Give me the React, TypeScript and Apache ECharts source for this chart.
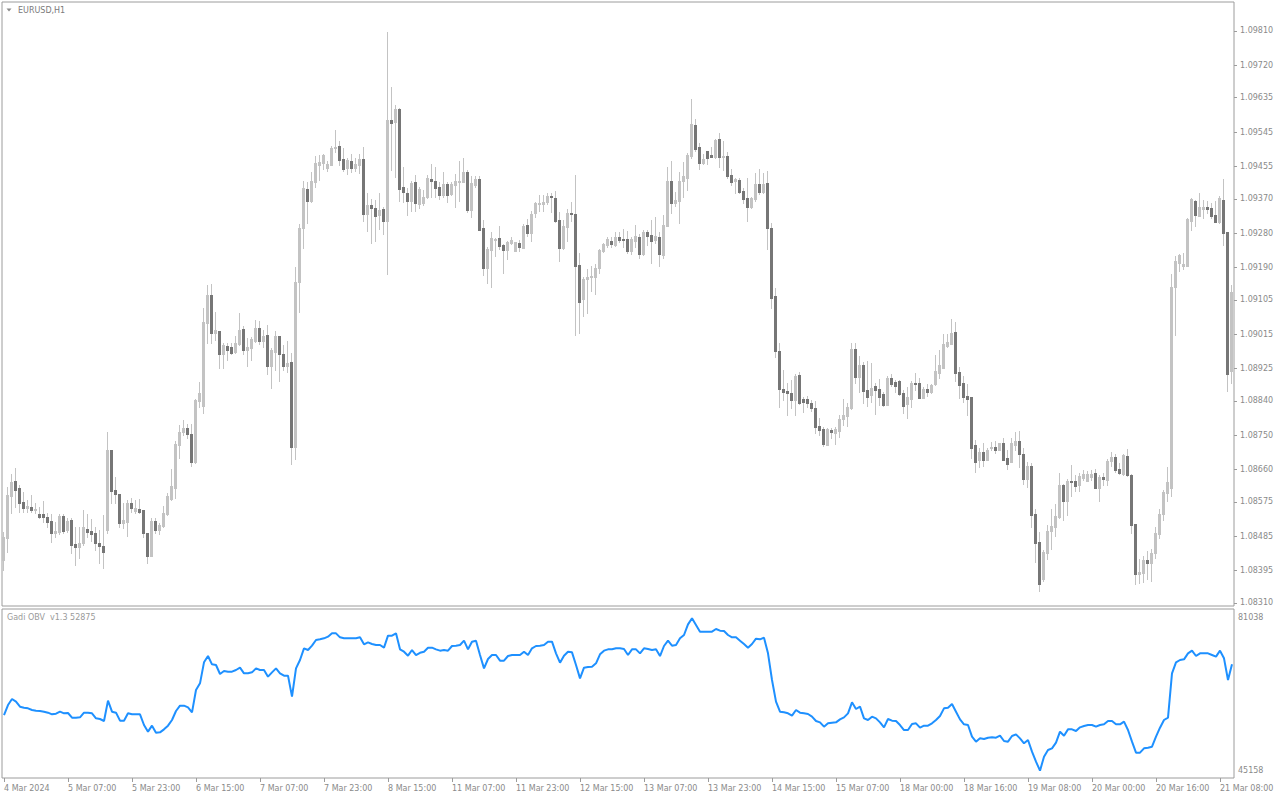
import React, { useEffect, useRef } from 'react';
import * as echarts from 'echarts';

const yTickLabels = ['1.09810', '1.09720', '1.09635', '1.09545', '1.09455', '1.09370', '1.09280', '1.09190', '1.09105', '1.09015', '1.08925', '1.08840', '1.08750', '1.08660', '1.08575', '1.08485', '1.08395', '1.08310'];
const xTickLabels = ['4 Mar 2024', '5 Mar 07:00', '5 Mar 23:00', '6 Mar 15:00', '7 Mar 07:00', '7 Mar 23:00', '8 Mar 15:00', '11 Mar 07:00', '11 Mar 23:00', '12 Mar 15:00', '13 Mar 07:00', '13 Mar 23:00', '14 Mar 15:00', '15 Mar 07:00', '18 Mar 00:00', '18 Mar 16:00', '19 Mar 08:00', '20 Mar 00:00', '20 Mar 16:00', '21 Mar 08:00'];
const obvTickLabels = ['81038', '45158'];

const opens = [
1.08423,1.08481,1.08591,1.08630,1.08612,1.08575,1.08559,1.08562,1.08554,1.08544,1.08544,1.08536,1.08525,1.08494,1.08496,1.08538,1.08502,1.08528,1.08465,1.08457,
1.08468,1.08504,1.08499,1.08494,1.08468,1.08460,1.08502,1.08711,1.08607,1.08596,1.08520,1.08523,1.08572,1.08552,1.08557,1.08554,1.08494,1.08434,1.08525,1.08502,
1.08512,1.08544,1.08583,1.08612,1.08725,1.08759,1.08769,1.08753,1.08680,1.08840,1.08827,1.09044,1.09118,1.09018,1.09023,1.08963,1.08984,1.08981,1.08968,1.08989,
1.09029,1.08974,1.08979,1.08997,1.09031,1.08997,1.09013,1.08932,1.08968,1.09010,1.08963,1.08932,1.08942,1.08719,1.09152,1.09293,1.09396,1.09364,1.09414,1.09459,
1.09464,1.09451,1.09459,1.09503,1.09509,1.09474,1.09451,1.09469,1.09451,1.09459,1.09474,1.09330,1.09354,1.09346,1.09328,1.09343,1.09312,1.09577,1.09571,1.09606,
1.09401,1.09385,1.09364,1.09414,1.09356,1.09359,1.09375,1.09422,1.09417,1.09401,1.09380,1.09409,1.09383,1.09406,1.09414,1.09414,1.09440,1.09341,1.09406,1.09422,
1.09293,1.09189,1.09236,1.09262,1.09267,1.09249,1.09236,1.09254,1.09233,1.09254,1.09241,1.09301,1.09280,1.09333,1.09356,1.09356,1.09362,1.09377,1.09372,1.09315,
1.09241,1.09296,1.09333,1.09330,1.09196,1.09107,1.09160,1.09165,1.09165,1.09189,1.09233,1.09249,1.09259,1.09249,1.09270,1.09265,1.09265,1.09233,1.09259,1.09270,
1.09225,1.09283,1.09275,1.09262,1.09270,1.09223,1.09299,1.09417,1.09359,1.09364,1.09417,1.09425,1.09482,1.09564,1.09506,1.09464,1.09495,1.09485,1.09480,1.09527,
1.09480,1.09482,1.09433,1.09417,1.09419,1.09390,1.09372,1.09349,1.09370,1.09409,1.09388,1.09411,1.09293,1.09115,1.08971,1.08871,1.08866,1.08861,1.08843,1.08908,
1.08845,1.08845,1.08835,1.08822,1.08775,1.08766,1.08725,1.08764,1.08756,1.08761,1.08793,1.08801,1.08822,1.08976,1.08903,1.08934,1.08869,1.08856,1.08879,1.08871,
1.08858,1.08829,1.08900,1.08890,1.08892,1.08861,1.08833,1.08845,1.08887,1.08887,1.08848,1.08871,1.08864,1.08884,1.08913,1.08926,1.08984,1.08989,1.09021,1.08916,
1.08887,1.08853,1.08850,1.08725,1.08685,1.08706,1.08685,1.08717,1.08719,1.08711,1.08730,1.08690,1.08680,1.08725,1.08735,1.08701,1.08635,1.08670,1.08544,1.08470,
1.08373,1.08441,1.08499,1.08509,1.08536,1.08620,1.08578,1.08630,1.08630,1.08620,1.08638,1.08630,1.08641,1.08651,1.08612,1.08641,1.08633,1.08683,1.08693,1.08662,
1.08649,1.08696,1.08646,1.08517,1.08386,1.08389,1.08423,1.08415,1.08441,1.08491,1.08544,1.08599,1.08612,1.09139,1.09202,1.09194,1.09194,1.09312,1.09364,1.09325,
1.09343,1.09349,1.09346,1.09328,1.09309,1.09367,1.09283,1.08919
];
const highs = [
1.08496,1.08614,1.08649,1.08664,1.08620,1.08601,1.08580,1.08593,1.08572,1.08562,1.08578,1.08546,1.08544,1.08523,1.08544,1.08544,1.08533,1.08533,1.08509,1.08509,
1.08554,1.08544,1.08531,1.08509,1.08502,1.08541,1.08759,1.08711,1.08641,1.08596,1.08572,1.08580,1.08586,1.08580,1.08583,1.08554,1.08494,1.08533,1.08533,1.08520,
1.08565,1.08599,1.08662,1.08735,1.08777,1.08790,1.08780,1.08780,1.08845,1.08890,1.09084,1.09144,1.09147,1.09073,1.09023,1.08992,1.08992,1.08992,1.09010,1.09071,
1.09036,1.09005,1.09008,1.09052,1.09050,1.09026,1.09039,1.08979,1.09023,1.09010,1.08987,1.08997,1.08966,1.09191,1.09304,1.09417,1.09414,1.09440,1.09482,1.09485,
1.09488,1.09469,1.09509,1.09551,1.09522,1.09503,1.09477,1.09488,1.09477,1.09488,1.09506,1.09385,1.09370,1.09367,1.09385,1.09349,1.09807,1.09663,1.09616,1.09608,
1.09453,1.09398,1.09417,1.09432,1.09401,1.09393,1.09432,1.09461,1.09453,1.09414,1.09440,1.09414,1.09414,1.09435,1.09469,1.09477,1.09446,1.09430,1.09430,1.09430,
1.09314,1.09244,1.09283,1.09267,1.09299,1.09252,1.09259,1.09270,1.09257,1.09262,1.09304,1.09317,1.09338,1.09362,1.09380,1.09380,1.09385,1.09385,1.09391,1.09335,
1.09315,1.09343,1.09362,1.09432,1.09228,1.09165,1.09186,1.09194,1.09199,1.09238,1.09254,1.09270,1.09270,1.09283,1.09283,1.09291,1.09286,1.09270,1.09301,1.09278,
1.09288,1.09288,1.09315,1.09322,1.09283,1.09328,1.09453,1.09469,1.09388,1.09440,1.09467,1.09490,1.09632,1.09579,1.09516,1.09488,1.09495,1.09506,1.09527,1.09543,
1.09522,1.09493,1.09448,1.09425,1.09425,1.09398,1.09425,1.09375,1.09438,1.09448,1.09438,1.09443,1.09307,1.09136,1.08992,1.08921,1.08887,1.08895,1.08911,1.08916,
1.08850,1.08853,1.08843,1.08840,1.08795,1.08772,1.08769,1.08769,1.08772,1.08803,1.08845,1.08835,1.08992,1.08992,1.08958,1.08942,1.08945,1.08940,1.08887,1.08898,
1.08864,1.08905,1.08911,1.08895,1.08895,1.08869,1.08877,1.08892,1.08913,1.08900,1.08877,1.08884,1.08884,1.08961,1.08974,1.09016,1.09016,1.09055,1.09047,1.08929,
1.08905,1.08884,1.08850,1.08738,1.08717,1.08730,1.08717,1.08732,1.08735,1.08730,1.08743,1.08711,1.08743,1.08759,1.08761,1.08717,1.08680,1.08677,1.08557,1.08496,
1.08449,1.08515,1.08557,1.08570,1.08651,1.08622,1.08635,1.08672,1.08646,1.08651,1.08659,1.08656,1.08659,1.08662,1.08646,1.08651,1.08688,1.08706,1.08701,1.08677,
1.08701,1.08714,1.08649,1.08517,1.08426,1.08434,1.08447,1.08452,1.08509,1.08557,1.08607,1.08667,1.09173,1.09220,1.09225,1.09228,1.09320,1.09372,1.09367,1.09385,
1.09367,1.09364,1.09359,1.09364,1.09377,1.09422,1.09283,1.09144
];
const lows = [
1.08397,1.08444,1.08546,1.08562,1.08549,1.08549,1.08549,1.08549,1.08546,1.08533,1.08523,1.08509,1.08470,1.08483,1.08491,1.08494,1.08496,1.08441,1.08410,1.08428,
1.08462,1.08483,1.08473,1.08449,1.08415,1.08402,1.08494,1.08572,1.08572,1.08509,1.08507,1.08486,1.08549,1.08546,1.08546,1.08483,1.08415,1.08434,1.08494,1.08491,
1.08509,1.08541,1.08580,1.08586,1.08690,1.08751,1.08743,1.08670,1.08677,1.08824,1.08808,1.08992,1.08992,1.09000,1.08926,1.08926,1.08947,1.08963,1.08966,1.08987,
1.08963,1.08932,1.08947,1.08995,1.08989,1.08981,1.08911,1.08874,1.08921,1.08892,1.08921,1.08916,1.08675,1.08688,1.09073,1.09241,1.09307,1.09362,1.09401,1.09419,
1.09448,1.09443,1.09459,1.09493,1.09459,1.09443,1.09435,1.09440,1.09443,1.09438,1.09312,1.09286,1.09254,1.09259,1.09291,1.09278,1.09173,1.09446,1.09427,1.09364,
1.09362,1.09328,1.09338,1.09338,1.09346,1.09354,1.09372,1.09375,1.09375,1.09370,1.09375,1.09362,1.09380,1.09349,1.09364,1.09414,1.09335,1.09322,1.09401,1.09288,
1.09170,1.09149,1.09139,1.09220,1.09238,1.09176,1.09212,1.09252,1.09233,1.09233,1.09241,1.09273,1.09259,1.09322,1.09338,1.09338,1.09356,1.09335,1.09309,1.09207,
1.09238,1.09259,1.09312,1.09013,1.09018,1.09063,1.09071,1.09128,1.09120,1.09176,1.09231,1.09244,1.09244,1.09246,1.09257,1.09244,1.09228,1.09225,1.09244,1.09215,
1.09223,1.09249,1.09202,1.09254,1.09194,1.09215,1.09299,1.09333,1.09351,1.09307,1.09375,1.09393,1.09477,1.09495,1.09448,1.09461,1.09461,1.09480,1.09477,1.09453,
1.09446,1.09425,1.09406,1.09385,1.09385,1.09359,1.09312,1.09346,1.09364,1.09383,1.09385,1.09238,1.09084,1.08955,1.08824,1.08843,1.08803,1.08822,1.08803,1.08833,
1.08811,1.08824,1.08814,1.08756,1.08751,1.08722,1.08725,1.08743,1.08727,1.08746,1.08777,1.08775,1.08819,1.08887,1.08864,1.08835,1.08827,1.08838,1.08806,1.08829,
1.08827,1.08829,1.08879,1.08864,1.08856,1.08808,1.08795,1.08824,1.08869,1.08848,1.08848,1.08853,1.08861,1.08882,1.08900,1.08926,1.08981,1.08989,1.08892,1.08848,
1.08838,1.08803,1.08690,1.08654,1.08667,1.08670,1.08685,1.08711,1.08704,1.08711,1.08685,1.08662,1.08680,1.08711,1.08667,1.08622,1.08614,1.08509,1.08418,1.08342,
1.08368,1.08426,1.08452,1.08486,1.08533,1.08528,1.08541,1.08591,1.08604,1.08604,1.08633,1.08630,1.08633,1.08612,1.08578,1.08620,1.08620,1.08670,1.08654,1.08649,
1.08646,1.08643,1.08494,1.08360,1.08363,1.08365,1.08373,1.08368,1.08428,1.08481,1.08528,1.08578,1.08591,1.09013,1.09181,1.09186,1.09194,1.09288,1.09299,1.09325,
1.09320,1.09333,1.09320,1.09309,1.09307,1.09249,1.08866,1.08887
];
const closes = [
1.08483,1.08593,1.08628,1.08607,1.08572,1.08559,1.08565,1.08554,1.08557,1.08536,1.08536,1.08523,1.08494,1.08499,1.08538,1.08499,1.08525,1.08462,1.08457,1.08468,
1.08509,1.08496,1.08491,1.08468,1.08460,1.08444,1.08711,1.08604,1.08596,1.08520,1.08528,1.08572,1.08559,1.08559,1.08549,1.08494,1.08434,1.08525,1.08502,1.08515,
1.08546,1.08591,1.08617,1.08727,1.08759,1.08769,1.08753,1.08680,1.08843,1.08861,1.09047,1.09118,1.09018,1.09026,1.08963,1.08987,1.08974,1.08966,1.08992,1.09026,
1.08974,1.08981,1.09002,1.09031,1.08997,1.09010,1.08932,1.08974,1.09010,1.08963,1.08932,1.08940,1.08719,1.09152,1.09293,1.09398,1.09364,1.09417,1.09464,1.09467,
1.09485,1.09461,1.09503,1.09506,1.09472,1.09448,1.09472,1.09451,1.09461,1.09474,1.09330,1.09354,1.09346,1.09325,1.09341,1.09312,1.09577,1.09569,1.09606,1.09396,
1.09388,1.09364,1.09411,1.09359,1.09396,1.09375,1.09425,1.09417,1.09398,1.09380,1.09409,1.09380,1.09409,1.09417,1.09417,1.09440,1.09341,1.09411,1.09422,1.09288,
1.09189,1.09238,1.09267,1.09265,1.09246,1.09236,1.09257,1.09262,1.09257,1.09244,1.09299,1.09280,1.09330,1.09359,1.09359,1.09362,1.09377,1.09375,1.09312,1.09241,
1.09299,1.09333,1.09330,1.09194,1.09099,1.09160,1.09165,1.09168,1.09189,1.09236,1.09252,1.09265,1.09252,1.09270,1.09262,1.09262,1.09233,1.09265,1.09272,1.09225,
1.09283,1.09272,1.09259,1.09272,1.09225,1.09301,1.09417,1.09359,1.09367,1.09417,1.09430,1.09485,1.09566,1.09501,1.09464,1.09474,1.09477,1.09480,1.09524,1.09480,
1.09482,1.09430,1.09414,1.09422,1.09388,1.09370,1.09349,1.09372,1.09409,1.09388,1.09409,1.09293,1.09110,1.08971,1.08871,1.08864,1.08861,1.08843,1.08905,1.08835,
1.08838,1.08835,1.08822,1.08772,1.08764,1.08727,1.08766,1.08759,1.08766,1.08793,1.08803,1.08824,1.08976,1.08903,1.08934,1.08866,1.08850,1.08874,1.08869,1.08850,
1.08829,1.08900,1.08884,1.08879,1.08858,1.08827,1.08850,1.08887,1.08884,1.08848,1.08871,1.08864,1.08882,1.08919,1.08934,1.08989,1.08995,1.09018,1.08913,1.08882,
1.08850,1.08845,1.08717,1.08680,1.08706,1.08685,1.08711,1.08719,1.08711,1.08730,1.08685,1.08675,1.08730,1.08735,1.08701,1.08635,1.08670,1.08541,1.08468,1.08360,
1.08444,1.08499,1.08512,1.08538,1.08620,1.08578,1.08630,1.08628,1.08617,1.08643,1.08649,1.08649,1.08649,1.08612,1.08641,1.08635,1.08683,1.08693,1.08659,1.08651,
1.08698,1.08646,1.08515,1.08386,1.08392,1.08423,1.08415,1.08441,1.08494,1.08544,1.08601,1.08628,1.09139,1.09207,1.09223,1.09199,1.09317,1.09370,1.09328,1.09349,
1.09349,1.09343,1.09325,1.09309,1.09372,1.09280,1.08911,1.09126
];
const obv = [
58203,60533,61931,61310,60145,59912,59757,59368,59213,59135,58980,58747,58359,58514,58980,58592,58669,57582,57582,57660,
58747,58747,58592,57426,57271,56805,61543,58980,58747,56883,56883,58592,58359,58359,58359,55873,54320,55718,54087,54165,
54864,55718,57038,59135,60378,60378,59990,58825,64028,65581,70475,71951,70009,69853,67757,68455,68300,68300,68688,69232,
67912,67912,68145,69077,68688,68688,67135,68145,69077,67912,67368,67368,62475,69077,71018,73737,73349,74358,75678,75834,
76067,76455,77232,77232,76300,76067,76067,76067,76067,76300,74669,75135,74746,74514,74514,73892,76688,76688,77232,73504,
72960,72028,73349,72183,72700,72960,73892,73892,73504,73193,73349,73193,74281,74358,74514,75523,73504,75290,75523,72183,
69077,71251,72183,72183,70863,70863,71950,72183,72183,72183,72960,72183,73737,74281,74358,74514,75290,75290,72572,70397,
72028,72960,72805,69853,66747,69232,69387,69465,70242,72339,73193,73504,73504,73737,73737,73582,72183,73504,73504,72572,
73737,73582,73349,73504,71950,74281,75523,74358,74514,76067,76844,79329,80727,79174,77620,77620,77620,77620,78242,77853,
77776,76844,76300,76300,75523,74747,73892,74747,75989,75834,76222,72572,66358,61310,58980,58824,58591,58048,59368,58747,
58591,58436,57815,56805,56494,55484,56261,56416,56494,57193,57659,58591,61154,59601,60145,57426,57038,57815,57426,56494,
55329,57271,56883,56805,55873,54708,54708,56106,56261,55251,55717,55717,56261,57038,57970,59756,59912,60766,58980,57193,
56028,55873,53154,51989,52766,52611,52921,52999,52921,53387,52145,51989,53310,53698,52766,51601,52378,49659,47329,45232,
48494,50048,50436,51756,54319,53387,54863,54863,54475,55329,55640,55873,55873,55484,55873,56028,56805,56805,56028,56028,
56649,54708,51989,49426,49426,50436,50591,50824,53154,55251,57038,57582,67912,70475,71018,71174,72572,73193,71950,72572,
72572,72572,72183,71795,73193,71407,66358,70009
];

const FONT = 'DejaVu Sans';
const LABEL = '#8a8a8a';
const BORDER = '#9c9c9c';
const BULL = '#c3c3c3';
const BEAR = '#767676';
const WICK = '#c3c3c3';

function buildCategories(n: number): string[] {
  const out: string[] = [];
  let t = Date.UTC(2024, 2, 4, 16);
  const months = ['Jan', 'Feb', 'Mar', 'Apr'];
  while (out.length < n) {
    const d = new Date(t);
    const wd = d.getUTCDay();
    if (wd !== 0 && wd !== 6) {
      const hh = String(d.getUTCHours()).padStart(2, '0');
      out.push(`${d.getUTCDate()} ${months[d.getUTCMonth()]} ${hh}:00`);
    }
    t += 3600000;
  }
  return out;
}

function renderCandle(_params: any, api: any) {
  const k = api.value(0);
  const o = api.value(1);
  const c = api.value(2);
  const l = api.value(3);
  const h = api.value(4);
  const pO = api.coord([k, o]);
  const pC = api.coord([k, c]);
  const pL = api.coord([k, l]);
  const pH = api.coord([k, h]);
  const cx = Math.round(pO[0]);
  const yH = Math.round(pH[1]);
  const yL = Math.round(pL[1]);
  const yTop = Math.round(Math.min(pO[1], pC[1]));
  const yBot = Math.round(Math.max(pO[1], pC[1]));
  const bull = c >= o;
  return {
    type: 'group',
    children: [
      { type: 'rect', shape: { x: cx - 1, y: yH, width: 1, height: Math.max(1, yL - yH + 1) }, style: { fill: WICK } },
      { type: 'rect', shape: { x: cx - 2, y: yTop, width: 3, height: Math.max(1, yBot - yTop + 1) }, style: { fill: bull ? BULL : BEAR } },
    ],
  };
}

export default function App() {
  const ref = useRef<HTMLDivElement>(null);
  useEffect(() => {
    if (!ref.current) return;
    const chart = echarts.init(ref.current, null, { renderer: 'svg' });
    const categories = buildCategories(closes.length);
    const candleData = opens.map((o, i) => [i, o, closes[i], lows[i], highs[i]]);
    const yVals = yTickLabels.map(Number);
    const obvVals = obvTickLabels.map(Number);
    const step = 16;

    const option: any = {
      animation: false,
      backgroundColor: '#ffffff',
      grid: [
        { left: 2, top: 2, width: 1232, height: 604, show: true, borderColor: BORDER, borderWidth: 1, backgroundColor: '#fff' },
        { left: 2, top: 609, width: 1232, height: 169, show: true, borderColor: BORDER, borderWidth: 1, backgroundColor: '#fff' },
      ],
      xAxis: [
        {
          type: 'category', gridIndex: 0, data: categories, boundaryGap: true,
          axisLine: { show: false }, axisTick: { show: false }, axisLabel: { show: false }, splitLine: { show: false },
        },
        {
          type: 'category', gridIndex: 1, data: categories, boundaryGap: true, position: 'bottom',
          axisLine: { show: false },
          axisTick: { show: true, alignWithLabel: true, interval: (i: number) => i % step === 0, length: 4, lineStyle: { color: BORDER } },
          axisLabel: {
            show: true, interval: (i: number) => i % step === 0, align: 'left', margin: 6,
            fontFamily: FONT, fontSize: 8, color: LABEL,
            formatter: (_v: string, i: number) => (i % step === 0 ? (xTickLabels[i / step] ?? '') : ''),
          },
          splitLine: { show: false },
        },
      ],
      yAxis: [
        {
          type: 'value', gridIndex: 0, position: 'right', min: 1.083021, max: 1.09886, scale: true,
          axisLine: { show: false }, splitLine: { show: false },
          axisTick: { show: true, customValues: yVals, length: 3, lineStyle: { color: BORDER } },
          axisLabel: { show: true, customValues: yVals, margin: 6, fontFamily: FONT, fontSize: 8, color: LABEL, formatter: (v: number) => v.toFixed(5) },
        },
        {
          type: 'value', gridIndex: 1, position: 'right', min: 43527, max: 82902, scale: true,
          axisLine: { show: false }, splitLine: { show: false }, axisTick: { show: false },
          axisLabel: { show: true, customValues: obvVals, margin: 4, fontFamily: FONT, fontSize: 8, color: LABEL, formatter: (v: number) => String(Math.round(v)) },
        },
      ],
      series: [
        {
          type: 'custom', xAxisIndex: 0, yAxisIndex: 0, data: candleData, renderItem: renderCandle,
          encode: { x: 0, y: [1, 2, 3, 4] }, clip: true,
        },
        {
          type: 'line', xAxisIndex: 1, yAxisIndex: 1, data: obv, showSymbol: false, symbol: 'none',
          lineStyle: { color: '#1e90ff', width: 2 },
        },
      ],
      graphic: [
        { type: 'polygon', shape: { points: [[6.5, 8.5], [11.5, 8.5], [9, 11.5]] }, style: { fill: '#8a8a8a' } },
        { type: 'text', left: 18, top: 6, style: { text: 'EURUSD,H1', font: `8px "${FONT}"`, fill: '#7a7a7a' } },
        { type: 'text', left: 7, top: 613, style: { text: 'Gadi OBV  v1.3 52875', font: `8px "${FONT}"`, fill: '#9a9a9a' } },
      ],
    };
    chart.setOption(option);
    return () => chart.dispose();
  }, []);
  return <div ref={ref} style={{ position: 'fixed', left: 0, top: 0, width: 1280, height: 800, background: '#fff' }} />;
}
